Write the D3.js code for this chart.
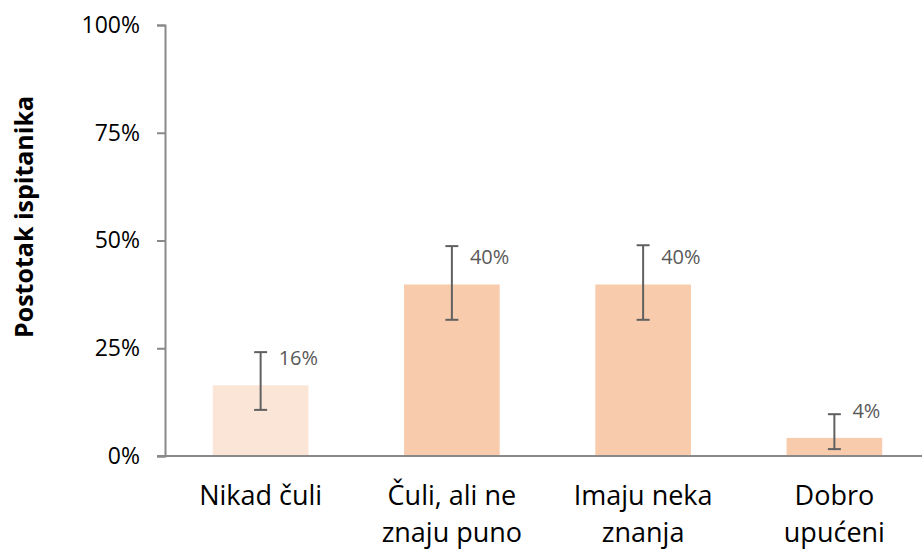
<!DOCTYPE html>
<html>
<head>
<meta charset="utf-8">
<script src="https://cdn.jsdelivr.net/npm/d3@7"></script>
<style>
  body { margin: 0; background: #fff; }
  svg { display: block; font-family: "Open Sans", sans-serif; }
</style>
</head>
<body>
<div id="chart"></div>
<script>
// data
var categories = [["Nikad čuli"], ["Čuli, ali ne", "znaju puno"], ["Imaju neka", "znanja"], ["Dobro", "upućeni"]];
var values   = [0.164, 0.398, 0.398, 0.042];
var errLow   = [0.107, 0.316, 0.316, 0.016];
var errHigh  = [0.241, 0.487, 0.489, 0.097];
var valueLabels = ["16%", "40%", "40%", "4%"];
var barColors = ["#FBE5D6", "#F8CBAD", "#F8CBAD", "#F8CBAD"];
var yTicks = [0, 0.25, 0.5, 0.75, 1];

var W = 922, H = 551;

var svg = d3.select("#chart")
            .append("svg")
            .attr("width", W)
            .attr("height", H);

var x = d3.scaleBand()
          .domain(d3.range(values.length))
          .range([165, 930])
          .paddingInner(0.5)
          .paddingOuter(0.25);

var y = d3.scaleLinear()
          .domain([0, 1])
          .range([456, 25]);

// y axis
var yAxis = svg.append("g")
               .attr("transform", "translate(165,0)")
               .call(d3.axisLeft(y).tickValues(yTicks).tickFormat(d3.format(".0%")).tickSize(8).tickPadding(17));

yAxis.select(".domain").attr("stroke", "#898989").attr("stroke-width", 2);
yAxis.selectAll(".tick line").attr("stroke", "#898989").attr("stroke-width", 2);
yAxis.selectAll(".tick text")
     .attr("fill", "#000")
     .attr("font-size", 23)
     .attr("font-family", "Open Sans, sans-serif");

// bars
svg.selectAll("rect.bar")
   .data(values)
   .enter()
   .append("rect")
   .attr("class", "bar")
   .attr("x", function(d, i) { return x(i); })
   .attr("y", function(d) { return y(d); })
   .attr("width", x.bandwidth())
   .attr("height", function(d) { return y(0) - y(d); })
   .attr("fill", function(d, i) { return barColors[i]; });

// baseline
svg.append("line")
   .attr("x1", 157)
   .attr("x2", W)
   .attr("y1", y(0))
   .attr("y2", y(0))
   .attr("stroke", "#898989")
   .attr("stroke-width", 2);

// error bars
var errs = svg.selectAll("g.err")
              .data(values)
              .enter()
              .append("g")
              .attr("class", "err")
              .attr("stroke", "#606060")
              .attr("stroke-width", 2);

errs.append("line")
    .attr("x1", function(d, i) { return x(i) + x.bandwidth() / 2; })
    .attr("x2", function(d, i) { return x(i) + x.bandwidth() / 2; })
    .attr("y1", function(d, i) { return y(errLow[i]); })
    .attr("y2", function(d, i) { return y(errHigh[i]); });

errs.append("line")
    .attr("x1", function(d, i) { return x(i) + x.bandwidth() / 2 - 6.5; })
    .attr("x2", function(d, i) { return x(i) + x.bandwidth() / 2 + 6.5; })
    .attr("y1", function(d, i) { return y(errLow[i]); })
    .attr("y2", function(d, i) { return y(errLow[i]); });

errs.append("line")
    .attr("x1", function(d, i) { return x(i) + x.bandwidth() / 2 - 6.5; })
    .attr("x2", function(d, i) { return x(i) + x.bandwidth() / 2 + 6.5; })
    .attr("y1", function(d, i) { return y(errHigh[i]); })
    .attr("y2", function(d, i) { return y(errHigh[i]); });

// value labels
svg.selectAll("text.vlabel")
   .data(values)
   .enter()
   .append("text")
   .attr("class", "vlabel")
   .attr("x", function(d, i) { return x(i) + x.bandwidth() / 2 + 18; })
   .attr("y", function(d) { return y(d) - 20; })
   .attr("fill", "#595959")
   .attr("font-size", 20)
   .text(function(d, i) { return valueLabels[i]; });

// category labels
var cats = svg.selectAll("text.cat")
              .data(categories)
              .enter()
              .append("text")
              .attr("class", "cat")
              .attr("text-anchor", "middle")
              .attr("font-size", 27)
              .attr("fill", "#000");

cats.selectAll("tspan")
    .data(function(d, i) { return d.map(function(s) { return {s: s, i: i}; }); })
    .enter()
    .append("tspan")
    .attr("x", function(d) { return x(d.i) + x.bandwidth() / 2; })
    .attr("y", function(d, j) { return 505 + j * 37; })
    .text(function(d) { return d.s; });

// y title
svg.append("text")
   .attr("transform", "translate(33,217) rotate(-90)")
   .attr("text-anchor", "middle")
   .attr("font-size", 25)
   .attr("font-weight", "bold")
   .attr("fill", "#000")
   .text("Postotak ispitanika");
</script>
</body>
</html>
